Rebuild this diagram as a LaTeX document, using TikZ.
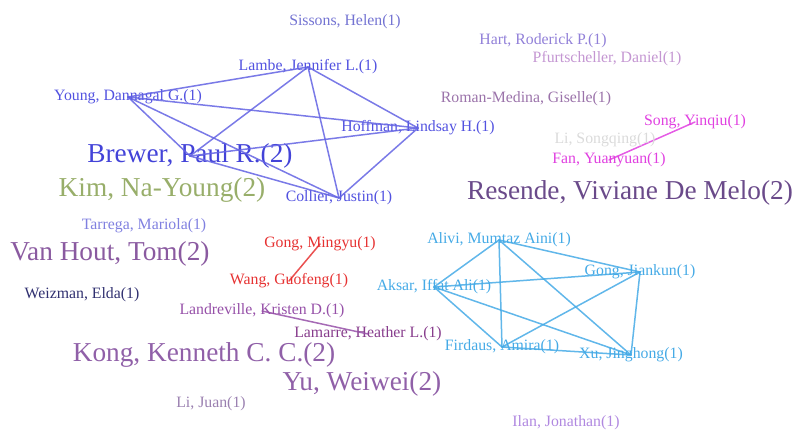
\documentclass[tikz,border=0pt]{standalone}
\usepackage{fontspec}
\setmainfont{Liberation Serif}
\definecolor{cblue}{HTML}{5252E0}
\definecolor{cbrewer}{HTML}{4343D8}
\definecolor{csky}{HTML}{45AAE6}
\definecolor{cred}{HTML}{E63232}
\definecolor{cmag}{HTML}{E040E0}
\definecolor{cpurple}{HTML}{9060A8}
\begin{document}
\begin{tikzpicture}[x=1pt,y=-1pt,line cap=round]
	\tikzstyle{small}=[inner sep=0pt,font=\fontsize{15.8}{18}\selectfont];
	\tikzstyle{big}=[inner sep=0pt,font=\fontsize{27.3}{30}\selectfont];
	\tikzstyle{link}=[line width=1.5pt,opacity=.85];
	\useasboundingbox (0,0) rectangle (795,431);

	% blue cluster
	\node[small,cblue] (lambe)   at (308,67)  {Lambe, Jennifer L.(1)};
	\node[small,cblue] (young)   at (128,97)  {Young, Dannagal G.(1)};
	\node[small,cblue] (hoffman) at (418,128) {Hoffman, Lindsay H.(1)};
	\node[big,cbrewer] (brewer)  at (190,156) {Brewer, Paul R.(2)};
	\node[small,cblue] (collier) at (339,198) {Collier, Justin(1)};
	\foreach \a/\b in {young/lambe,young/hoffman,young/brewer,young/collier,lambe/brewer,
	  lambe/collier,lambe/hoffman,brewer/hoffman,brewer/collier,hoffman/collier}
	  \draw[link,cblue!90!white] (\a.center) -- (\b.center);

	% sky blue cluster
	\node[small,csky] (alivi)   at (499,240) {Alivi, Mumtaz Aini(1)};
	\node[small,csky] (gongj)   at (640,272) {Gong, Jiankun(1)};
	\node[small,csky] (aksar)   at (434,287) {Aksar, Iffat Ali(1)};
	\node[small,csky] (firdaus) at (502,347) {Firdaus, Amira(1)};
	\node[small,csky] (xu)      at (631,355) {Xu, Jinghong(1)};
	\foreach \a/\b in {alivi/gongj,alivi/aksar,alivi/firdaus,alivi/xu,aksar/gongj,
	  aksar/firdaus,aksar/xu,firdaus/gongj,firdaus/xu,gongj/xu}
	  \draw[link,csky] (\a.center) -- (\b.center);

	% pairs
	\node[small,cmag] (song) at (695,122) {Song, Yinqiu(1)};
	\node[small,cmag] (fan)  at (609,160) {Fan, Yuanyuan(1)};
	\draw[link,cmag] (fan.center) -- (song.center);
	\node[small,cred] (gongm) at (320,244) {Gong, Mingyu(1)};
	\node[small,cred] (wang)  at (289,281) {Wang, Guofeng(1)};
	\draw[link,cred] (wang.center) -- (gongm.center);
	\node[small,color={rgb,255:red,150;green,80;blue,168}] (landre) at (262,311) {Landreville, Kristen D.(1)};
	\node[small,color={rgb,255:red,135;green,60;blue,140}] (lamarre) at (368,334) {Lamarre, Heather L.(1)};
	\draw[link,color={rgb,255:red,150;green,80;blue,168}] (landre.center) -- (lamarre.center);

	% single authors
	\node[small,color={rgb,255:red,115;green,115;blue,210}] (sissons) at (345,22) {Sissons, Helen(1)};
	\node[small,color={rgb,255:red,145;green,128;blue,216}] (hart) at (543,41) {Hart, Roderick P.(1)};
	\node[small,color={rgb,255:red,196;green,150;blue,210}] (pfurt) at (607,59) {Pfurtscheller, Daniel(1)};
	\node[small,color={rgb,255:red,155;green,115;blue,170}] (roman) at (526,99) {Roman-Medina, Giselle(1)};
	\node[small,color={rgb,255:red,218;green,218;blue,218}] (lisong) at (605,140) {Li, Songqing(1)};
	\node[big,color={rgb,255:red,152;green,174;blue,106}] (kim) at (162,190) {Kim, Na-Young(2)};
	\node[big,color={rgb,255:red,106;green,74;blue,138}] (resende) at (630,193) {Resende, Viviane De Melo(2)};
	\node[small,color={rgb,255:red,128;green,128;blue,224}] (tarrega) at (144,226) {Tarrega, Mariola(1)};
	\node[big,color={rgb,255:red,138;green,90;blue,160}] (vanhout) at (110,254) {Van Hout, Tom(2)};
	\node[small,color={rgb,255:red,48;green,48;blue,112}] (weizman) at (82,295) {Weizman, Elda(1)};
	\node[big,cpurple] (kong) at (204,355) {Kong, Kenneth C. C.(2)};
	\node[big,cpurple] (yu) at (362,384) {Yu, Weiwei(2)};
	\node[small,color={rgb,255:red,154;green,128;blue,176}] (lijuan) at (211,404) {Li, Juan(1)};
	\node[small,color={rgb,255:red,176;green,136;blue,224}] (ilan) at (566,423) {Ilan, Jonathan(1)};
\end{tikzpicture}
\end{document}
